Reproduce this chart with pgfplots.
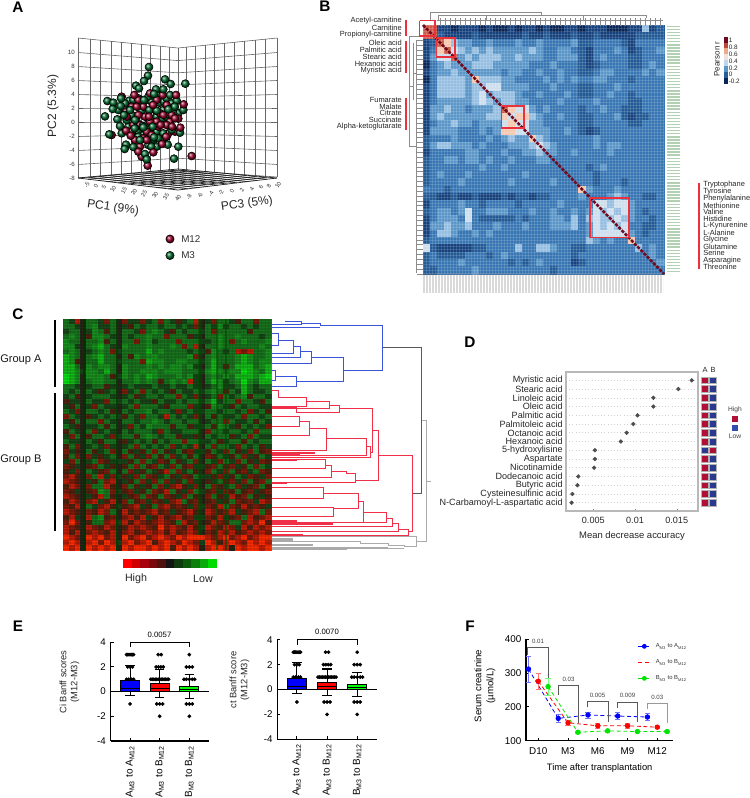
\documentclass[border=0pt]{standalone}
\usepackage{fontspec}
\setmainfont{Liberation Sans}
\usepackage{pgfplots}
\usepackage{pgfplotstable}
\pgfplotsset{compat=1.18}
\usepgfplotslibrary{statistics}
\definecolor{crim}{RGB}{150,0,40}
\definecolor{crims}{RGB}{176,16,52}
\definecolor{grn}{RGB}{0,105,45}
\definecolor{bxred}{RGB}{235,50,60}
\definecolor{dblue}{RGB}{58,85,220}
\definecolor{dred}{RGB}{240,48,72}
\definecolor{dgray}{RGB}{170,170,170}
\def\fs#1{\fontsize{#1}{#1}\selectfont}
\newcommand\Ln[2]{\addplot[#1] coordinates {#2};}
\pgfplotsset{
  /pgf/number format/assume math mode=true,
  zA/.style={x filter/.expression={x/3},y filter/.expression={y/3}},
  zB/.style={x filter/.expression={300+x/3},y filter/.expression={y/3}},
  zC/.style={x filter/.expression={x/3},y filter/.expression={300+y/3}},
  zF/.style={x filter/.expression={420+x/3},y filter/.expression={600+y/3}},
  sW/.style={black!60,line width=.45pt},
  sR/.style={black!85,line width=.55pt},
  sB/.style={zB,black!45,line width=.35pt},
  sb/.style={zC,dblue,line width=.7pt},
  sr/.style={zC,dred,line width=.7pt},
  sg/.style={zC,dgray,line width=.7pt},
  hcell/.style={only marks,scatter,forget plot,point meta=explicit,mark=square*,
    scatter/use mapped color={draw=mapped color,fill=mapped color}},
}
% panel B, coarse cells, code 0 (r=-0.2) to 9 (r=1)
\pgfplotstableread[header=false]{
8 8 1 1 0  1 1 1 0 1  0 0 1 0 1  1 0 1 0 0  1 1 0 1 1  1 0 0 0 1  1 5 1 2
8 8 2 1 1  1 1 2 1 1  1 1 1 1 2  1 1 2 1 1  1 2 1 1 2  1 1 1 1 1  2 2 2 2
1 2 8 7 5  4 4 3 3 4  3 3 3 4 3  3 4 3 3 3  3 4 2 2 3  3 3 3 2 1  3 3 3 3
1 3 7 8 6  5 4 5 4 5  4 4 4 4 4  5 4 3 3 4  4 3 2 1 3  3 3 4 3 1  2 3 3 4
1 4 6 6 8  4 5 4 5 5  5 4 4 5 4  4 4 3 3 4  4 4 2 1 3  4 3 3 3 2  2 3 3 3
0 3 4 5 4  4 4 5 5 5  4 4 4 4 4  3 3 3 4 3  3 3 2 1 2  3 3 3 3 2  2 3 4 3
1 3 4 4 5  4 4 4 4 4  4 3 4 4 3  3 4 3 3 4  3 3 2 2 3  4 4 3 3 3  3 4 3 4
0 3 5 5 5  5 4 7 5 5  5 4 4 3 3  3 3 4 3 4  3 4 3 3 4  4 3 3 3 2  3 3 3 3
1 3 5 5 5  5 4 5 5 6  6 4 4 4 4  3 3 3 4 3  3 3 2 2 3  3 3 4 3 3  3 3 3 3
1 3 5 5 5  5 4 5 6 4  5 5 5 4 3  3 4 3 3 3  4 3 2 2 3  3 4 3 3 2  3 3 3 3
1 3 4 4 4  4 4 5 6 5  4 5 5 4 4  3 3 3 3 4  3 3 3 3 4  3 3 3 3 2  2 3 3 3
1 4 4 5 4  4 3 4 4 4  5 8 7 6 6  4 3 4 3 3  3 3 2 3 3  4 3 3 2 2  2 3 3 3
1 4 5 4 4  4 4 4 4 5  5 7 6 7 7  5 4 3 3 4  3 3 2 2 3  3 3 4 2 1  2 2 3 3
1 3 4 4 5  4 4 3 4 4  4 6 7 6 6  4 4 3 3 3  3 3 2 2 3  3 3 3 3 2  2 3 3 3
1 4 4 4 4  3 3 3 4 3  4 7 7 6 6  4 4 4 3 3  4 3 2 1 2  3 3 3 3 3  3 3 3 3
2 3 3 3 4  3 3 3 3 4  3 4 5 4 4  7 5 4 3 3  3 3 3 3 4  3 3 3 3 3  3 3 3 3
2 4 5 5 4  4 4 3 4 3  3 3 4 4 4  5 6 5 4 3  3 3 3 3 4  3 4 4 3 3  3 3 3 3
1 3 3 3 3  3 4 4 3 3  3 4 3 3 4  4 5 4 4 3  3 4 3 3 3  3 4 3 3 3  3 3 3 3
2 3 3 4 4  3 4 4 3 4  3 3 4 3 3  3 4 4 3 3  3 3 3 3 3  3 3 3 3 3  3 3 3 3
2 3 3 3 3  3 3 3 4 3  3 4 3 3 3  3 3 3 3 3  3 3 3 2 3  4 3 3 3 3  3 3 3 3
2 3 4 3 3  3 4 3 3 3  3 3 3 3 4  3 3 3 3 3  3 3 3 3 2  3 3 3 3 3  3 3 3 3
2 3 3 3 3  4 3 3 3 3  3 3 4 3 3  3 3 3 4 3  3 3 3 3 2  3 3 3 2 3  3 3 3 3
3 3 3 2 3  3 3 3 3 3  3 3 3 3 3  3 3 3 3 3  3 3 7 4 3  3 3 4 3 3  3 3 3 3
2 2 1 1 2  1 1 2 1 1  1 2 1 2 2  1 2 2 3 3  3 3 4 3 3  3 4 5 4 3  3 2 2 3
1 3 3 3 3  4 3 3 2 3  3 3 3 2 3  3 3 3 3 4  3 3 3 3 6  6 5 6 6 4  3 3 3 3
2 3 4 4 3  4 6 3 3 4  4 4 3 3 3  4 3 3 4 3  3 4 3 4 6  5 6 5 6 4  3 2 3 3
1 3 4 4 4  3 6 3 2 2  2 2 2 3 2  3 3 3 4 4  3 5 3 5 6  5 5 6 5 4  3 3 2 3
1 4 4 5 4  4 5 3 3 3  4 3 3 3 4  3 3 3 4 4  4 5 3 4 6  5 6 5 6 3  3 2 2 3
1 3 5 5 4  3 3 4 3 4  3 3 3 3 3  3 3 3 3 3  3 3 3 4 6  6 6 6 6 4  3 2 3 3
2 3 3 3 3  3 3 3 3 3  3 3 3 3 3  3 3 3 3 3  3 3 3 5 4  3 4 3 3 7  3 3 3 3
6 2 1 1 1  1 1 2 2 3  3 3 3 5 3  3 5 5 4 3  3 2 2 3 3  3 3 3 3 3  5 3 4 3
2 3 2 2 2  2 3 3 3 2  3 4 3 3 3  3 3 3 3 3  3 2 3 3 3  3 3 3 3 3  3 3 4 3
2 3 3 3 3  4 3 3 3 3  3 3 2 3 2  3 4 3 3 3  3 1 2 3 3  3 3 3 3 3  3 3 3 4
2 2 3 3 3  3 3 4 3 3  3 3 3 3 3  3 3 3 2 3  3 3 3 3 3  3 3 3 3 3  3 3 3 3
}\tabB
% panel C, coarse cells, code 0 (high, red) to 9 (low, green)
\pgfplotstableread[header=false]{
6 5 1 4 6  6 5 2 6 4  2 5 5 2 5  6 2 6 5 3  5 6 1 4 5  2 6 6 5 3  6 6 2 6 6
6 6 5 4 6  7 5 5 6 4  5 3 6 5 6  6 5 6 6 5  6 5 2 4 6  5 7 5 6 6  5 6 5 6 6
5 6 6 4 5  7 6 3 6 4  6 6 5 2 6  7 6 5 3 6  5 6 6 5 6  2 6 6 6 6  6 3 6 6 6
6 7 6 4 3  7 7 6 5 4  6 5 6 6 7  6 6 2 6 6  6 3 5 4 6  6 7 6 6 7  6 6 6 5 6
7 6 6 4 6  6 7 3 6 4  6 6 2 6 7  5 6 6 6 2  6 6 6 5 5  6 7 6 2 6  7 6 6 6 7
7 7 5 4 6  7 8 6 5 4  7 6 6 6 7  6 6 6 7 6  2 6 1 4 6  6 7 6 6 6  6 6 6 7 6
6 7 6 4 5  6 7 6 2 5  6 6 6 6 8  6 7 6 6 6  6 5 6 5 3  7 6 5 6 1  2 1 6 6 7
8 7 6 4 6  7 8 6 6 4  6 3 7 6 7  7 6 6 6 6  6 7 2 4 6  7 6 6 6 7  8 7 6 6 7
8 7 3 4 6  6 8 6 6 5  6 6 6 2 8  7 7 6 6 7  7 6 6 5 6  8 6 6 6 7  8 7 6 7 7
8 8 6 4 7  6 7 7 6 4  7 6 6 6 7  6 7 6 7 7  6 7 5 4 6  8 6 3 6 8  8 8 6 7 8
8 8 7 5 7  7 6 8 6 4  7 6 6 7 7  7 6 7 7 7  6 6 6 5 7  8 7 6 7 7  9 8 7 6 8
9 8 7 4 7  7 7 6 3 5  7 6 7 6 8  7 6 6 6 7  6 7 5 4 6  7 6 7 6 8  8 8 7 8 9
9 8 7 4 6  7 7 6 6 4  6 6 7 6 7  6 3 6 7 6  7 1 5 4 6  8 7 5 6 7  9 7 6 8 8
6 6 5 4 5  6 6 3 5 4  5 6 5 5 5  6 5 5 6 5  5 6 5 4 5  6 7 5 5 6  8 6 5 6 6
6 5 6 4 6  5 3 5 6 4  2 5 6 2 6  5 6 5 3 6  5 5 6 5 6  7 6 3 6 5  8 6 5 5 6
5 6 3 4 5  6 6 6 5 4  5 6 3 5 6  6 5 6 6 2  6 5 2 4 5  6 2 6 5 6  7 3 6 6 5
3 5 5 4 6  5 5 2 6 5  6 5 6 5 5  3 6 5 5 6  5 6 6 5 6  8 5 6 6 2  6 6 5 3 6
5 3 6 4 5  2 6 5 5 4  5 6 2 6 6  6 5 3 6 6  6 2 5 4 3  7 6 5 3 6  5 6 6 5 5
6 5 2 4 6  6 5 6 3 4  6 5 6 6 7  5 6 6 5 2  5 6 5 5 6  6 5 6 6 5  6 2 5 6 3
2 6 5 4 3  5 6 5 6 5  3 6 5 2 6  6 5 1 6 5  6 5 2 4 6  3 6 5 5 6  2 6 6 5 6
5 3 6 4 6  6 2 6 5 4  6 6 5 6 6  7 6 5 6 6  5 6 6 4 5  6 6 2 6 5  5 6 3 6 5
6 5 3 4 5  5 6 3 6 4  5 2 6 5 7  6 6 6 3 6  6 3 5 5 6  3 7 6 5 3  6 5 6 5 2
3 6 5 4 6  2 5 6 5 4  6 5 6 6 6  5 2 6 5 5  6 6 6 4 2  6 6 5 6 6  5 6 2 6 6
5 2 6 4 3  6 6 5 2 5  6 6 3 6 7  6 5 6 6 3  5 5 3 4 6  5 6 6 3 5  6 2 6 5 5
6 5 5 4 6  5 3 6 6 4  3 5 6 5 6  3 6 5 6 6  2 6 6 5 5  6 3 5 6 6  3 6 5 6 6
3 6 2 4 5  6 5 2 5 4  5 6 2 6 5  6 5 6 2 5  6 5 1 4 6  2 6 6 5 2  6 5 6 3 5
2 5 3 4 6  3 5 6 2 4  6 3 5 3 6  2 6 3 5 6  3 2 5 5 3  6 5 2 6 3  5 2 6 3 2
3 6 2 4 2  5 3 5 6 4  2 6 3 5 2  6 3 6 2 5  6 3 6 4 2  3 6 5 3 6  2 5 3 6 5
5 2 6 4 5  6 2 3 5 5  5 3 6 2 6  5 2 3 6 3  5 6 2 4 6  5 2 6 5 2  6 3 5 2 3
2 3 5 4 3  2 6 5 3 4  3 6 2 6 3  2 6 5 2 6  3 2 5 5 3  2 6 3 2 5  3 6 2 6 5
3 5 2 4 6  5 3 2 6 4  6 2 5 3 6  5 3 1 6 2  5 6 3 4 2  6 5 2 6 3  2 5 6 2 3
2 1 3 4 2  6 1 5 2 5  3 5 2 6 2  3 5 6 3 5  2 3 6 5 5  3 2 5 3 6  5 2 3 5 2
1 2 3 4 5  3 6 2 1 4  5 3 6 2 5  2 6 2 5 3  6 2 5 4 3  5 6 3 2 5  2 6 3 2 6
3 1 2 4 2  6 6 1 3 4  2 6 3 5 3  6 2 5 2 1  3 5 2 4 6  2 3 5 6 2  5 3 2 6 3
2 3 5 4 3  2 7 6 2 5  3 2 5 3 6  2 3 1 6 3  5 2 6 5 3  2 5 2 3 6  3 2 5 3 2
1 2 3 4 5  3 1 6 3 4  5 3 2 6 2  3 6 2 3 5  2 6 3 4 2  6 3 5 1 3  2 6 3 5 3
3 1 2 4 2  1 5 3 1 4  2 6 3 2 5  2 3 5 2 1  6 3 2 4 3  2 5 3 6 2  3 2 5 1 2
2 3 1 4 6  5 2 1 3 5  3 2 1 5 3  6 2 1 3 2  3 5 2 5 2  3 1 6 2 3  1 3 2 3 5
1 2 3 4 2  3 1 2 6 4  1 3 2 3 2  1 3 2 5 3  2 1 3 4 1  2 3 2 1 5  3 2 1 6 2
3 1 5 4 1  6 7 3 2 4  2 1 3 1 5  3 1 3 2 1  3 2 5 5 2  3 1 5 3 2  6 1 3 2 1
2 0 2 4 3  6 6 2 1 5  1 3 1 2 3  2 1 2 3 6  1 3 2 4 3  1 2 3 6 6  2 1 2 0 3
1 2 3 4 1  2 3 1 2 4  3 1 2 1 2  3 0 2 1 2  3 1 3 5 1  2 3 1 2 5  1 3 1 2 1
1 3 1 4 2  1 2 3 1 4  2 1 3 2 1  2 1 3 1 3  2 1 2 4 2  3 1 2 1 3  2 1 2 1 2
0 1 2 4 0  1 0 2 1 4  0 2 1 0 2  1 0 1 2 0  1 0 0 0 1  2 1 0 2 1  0 2 1 0 0
1 0 1 4 1  0 2 0 1 5  1 0 2 1 0  3 1 0 1 2  0 1 2 5 0  1 3 1 0 1  2 0 1 0 1
0 1 0 4 0  1 0 1 0 4  0 1 0 0 1  0 1 0 3 0  1 0 1 4 1  0 0 1 4 0  1 0 0 1 0
}\tabC
\begin{document}
\begin{tikzpicture}
\path[use as bounding box] (0,0) rectangle (561.75pt,-598.5pt);

% B heatmap
\begin{axis}[at={(317.25pt,-18.75pt)},anchor=north west,scale only axis,
  width=180.75pt,height=186.75pt,xmin=423,xmax=664,ymin=25,ymax=274,y dir=reverse,hide axis,
  point meta min=0,point meta max=9,
  colormap={hb}{rgb255=(8,37,85) rgb255=(22,65,125) rgb255=(35,90,150) rgb255=(55,118,178)
    rgb255=(90,150,200) rgb255=(150,190,225) rgb255=(205,222,238) rgb255=(245,200,175)
    rgb255=(205,90,70) rgb255=(110,10,30)}]
\pgfplotsinvokeforeach{0,...,33}{
  \addplot[hcell,mark size=2.8pt] table[x expr={423+7.088*(#1+0.5)},y expr={25+7.324*(\coordindex+0.5)},meta index=#1]{\tabB};
}
\end{axis}

% C heatmap
\begin{axis}[at={(47.25pt,-239.25pt)},anchor=north west,scale only axis,
  width=156pt,height=173.25pt,xmin=63,xmax=271,ymin=319,ymax=550,y dir=reverse,hide axis,
  point meta min=0,point meta max=9,
  colormap={hc}{rgb255=(255,45,0) rgb255=(190,30,10) rgb255=(125,30,12) rgb255=(80,35,15)
    rgb255=(38,38,25) rgb255=(25,70,25) rgb255=(25,115,30) rgb255=(25,145,30)
    rgb255=(20,185,25) rgb255=(10,225,20)}]
\pgfplotsinvokeforeach{0,...,34}{
  \addplot[hcell,mark size=1.95pt,mark options={xscale=1.18}] table[x expr={63+5.943*(#1+0.5)},y expr={319+5.022*(\coordindex+0.5)},meta index=#1]{\tabC};
}
\end{axis}

% D
\begin{axis}[at={(424.5pt,-279pt)},anchor=north west,scale only axis,
  width=99pt,height=104.25pt,xmin=0.00173,xmax=0.01755,ymin=0.05,ymax=15.95,
  axis line style={draw=black!28,line width=.9pt},
  xtick={0.005,0.01,0.015},xticklabels={0.005,0.01,0.015},
  ytick={1,...,15},
  yticklabels={N-Carbamoyl-L-aspartatic acid,Cysteinesulfinic acid,Butyric acid,Dodecanoic acid,Nicotinamide,Aspartate,5-hydroxylisine,Hexanoic acid,Octanoic acid,Palmitoleic acid,Palmitic acid,Oleic acid,Linoleic acid,Stearic acid,Myristic acid},
  tick label style={font=\fontsize{6.8}{7}\selectfont,black!85},
  ymajorgrids,grid style={black!18,dotted,line width=.4pt},
  xtick pos=bottom,ytick pos=left,major tick length=1.5pt,
  tick style={black!45},ytick style={draw=none},
  scaled x ticks=false,
  xlabel={Mean decrease accuracy},xlabel style={font=\fontsize{7.1}{8}\selectfont,black!85,yshift=1pt},
  yticklabel style={xshift=1pt},xticklabel style={yshift=-1pt}]
\addplot[only marks,mark=*,mark size=1.4pt,black!70] coordinates {
(0.0168,15)(0.0152,14)(0.0122,13)(0.0122,12)(0.0103,11)(0.0098,10)(0.0090,9)(0.0083,8)
(0.0052,7)(0.0052,6)(0.0051,5)(0.0032,4)(0.0031,3)(0.0025,2)(0.0024,1)};
\end{axis}

% E left
\begin{axis}[at={(82.875pt,-481.7pt)},anchor=north west,scale only axis,
  width=73.9pt,height=74pt,xmin=0.34,xmax=3.665,ymin=-4,ymax=4,clip=false,
  axis x line*=bottom,axis y line*=left,axis line style={black,line width=.9pt,-},
  ytick={-4,-2,0,2,4},yticklabels={-4,-2,0,2,4},xtick={1,2,3},
  xticklabels={A\textsubscript{M3} to A\textsubscript{M12},A\textsubscript{M3} to B\textsubscript{M12},B\textsubscript{M3} to B\textsubscript{M12}},
  xticklabel style={rotate=90,anchor=east,font=\fontsize{7.5}{8}\selectfont},
  yticklabel style={font=\fontsize{7.3}{8}\selectfont},
  tick style={black,line width=.7pt},major tick length=2.3pt,
  boxplot/draw direction=y,boxplot/box extend=.64,boxplot/whisker extend=.32,
  boxplot/every median/.style={line width=.3pt}]
\addplot[boxplot prepared={lower whisker=-.3,lower quartile=0,median=.3,upper quartile=.9,upper whisker=2.15,draw position=1},fill=blue,draw=black,line width=.8pt] coordinates {};
\addplot[boxplot prepared={lower whisker=-.45,lower quartile=0,median=.3,upper quartile=.62,upper whisker=1.8,draw position=2},fill=red,draw=black,line width=.8pt] coordinates {};
\addplot[boxplot prepared={lower whisker=-.55,lower quartile=0,median=.2,upper quartile=.38,upper whisker=1.35,draw position=3},fill=green,draw=black,line width=.8pt] coordinates {};
\addplot[only marks,mark=*,mark size=1.2pt,black] coordinates {
(.88,3)(.92,3)(.96,3)(1,3)(1.04,3)(1.08,3)(1.12,3)(.92,2)(1,2)(1.08,2)(.88,1)(.95,1)(1.05,1)(1.12,1)(1,-1)
(1.95,3)(2.05,3)(1.88,2)(1.96,2)(2.04,2)(2.12,2)(1.7,1)(1.75,1)(1.8,1)(1.85,1)(1.9,1)(1.95,1)(2,1)(2.05,1)(2.1,1)(2.15,1)(2.2,1)(2.25,1)(2.3,1)(1.9,-1)(2,-1)(2.1,-1)(2,-2)
(3,3)(2.9,2)(3,2)(3.1,2)(2.82,1)(2.9,1)(3,1)(3.1,1)(3.18,1)(2.9,-1)(3,-1)(3.1,-1)(3,-2)};
\addplot[black,line width=.9pt] coordinates {(0.34,0)(3.665,0)};
\addplot[black,line width=.6pt] coordinates {(1,3.6)(1,4)(3,4)(3,3.6)};
\end{axis}

% E right
\begin{axis}[at={(208pt,-479.8pt)},anchor=north west,scale only axis,
  width=74.8pt,height=74.7pt,xmin=0.35,xmax=3.66,ymin=-4,ymax=4,clip=false,
  axis x line*=bottom,axis y line*=left,axis line style={black,line width=.9pt,-},
  ytick={-4,-2,0,2,4},yticklabels={-4,-2,0,2,4},xtick={1,2,3},
  xticklabels={A\textsubscript{M3} to A\textsubscript{M12},A\textsubscript{M3} to B\textsubscript{M12},B\textsubscript{M3} to B\textsubscript{M12}},
  xticklabel style={rotate=90,anchor=east,font=\fontsize{7.5}{8}\selectfont},
  yticklabel style={font=\fontsize{7.3}{8}\selectfont},
  tick style={black,line width=.7pt},major tick length=2.3pt,
  boxplot/draw direction=y,boxplot/box extend=.64,boxplot/whisker extend=.32,
  boxplot/every median/.style={line width=.3pt}]
\addplot[boxplot prepared={lower whisker=-.3,lower quartile=0,median=.3,upper quartile=.85,upper whisker=2.15,draw position=1},fill=blue,draw=black,line width=.8pt] coordinates {};
\addplot[boxplot prepared={lower whisker=-.45,lower quartile=0,median=.3,upper quartile=.55,upper whisker=1.65,draw position=2},fill=red,draw=black,line width=.8pt] coordinates {};
\addplot[boxplot prepared={lower whisker=-.55,lower quartile=0,median=.2,upper quartile=.4,upper whisker=1.4,draw position=3},fill=green,draw=black,line width=.8pt] coordinates {};
\addplot[only marks,mark=*,mark size=1.2pt,black] coordinates {
(.88,3)(.92,3)(.96,3)(1,3)(1.04,3)(1.08,3)(1.12,3)(.92,2)(1,2)(1.08,2)(.88,1)(.95,1)(1.05,1)(1.12,1)(1,-1)
(1.95,3)(2.05,3)(1.88,2)(1.96,2)(2.04,2)(2.12,2)(1.7,1)(1.75,1)(1.8,1)(1.85,1)(1.9,1)(1.95,1)(2,1)(2.05,1)(2.1,1)(2.15,1)(2.2,1)(2.25,1)(2.3,1)(1.9,-1)(2,-1)(2.1,-1)(2,-2)
(3,3)(2.9,2)(3,2)(3.1,2)(2.82,1)(2.9,1)(3,1)(3.1,1)(3.18,1)(2.9,-1)(3,-1)(3.1,-1)(3,-2)};
\addplot[black,line width=.9pt] coordinates {(0.35,0)(3.66,0)};
\addplot[black,line width=.6pt] coordinates {(1,3.6)(1,4)(3,4)(3,3.6)};
\end{axis}

% F
\begin{axis}[at={(394.5pt,-479.5pt)},anchor=north west,scale only axis,
  width=110.5pt,height=76pt,xmin=0.587,xmax=5.54,ymin=100,ymax=400,clip=false,
  axis x line*=bottom,axis y line*=left,axis line style={black,line width=.8pt,-},
  xtick={1,2,3,4,5},xticklabels={D10,M3,M6,M9,M12},ytick={100,200,300,400},yticklabels={100,200,300,400},
  tick label style={font=\fontsize{7.4}{8}\selectfont},xticklabel style={yshift=-1.5pt},
  tick style={black,line width=.6pt},major tick length=2.3pt,
  xlabel={Time after transplantation},xlabel style={font=\fontsize{7}{8}\selectfont}]
\addplot[blue,densely dashed,line width=.6pt,mark=*,mark size=1.7pt,mark options={solid},
  error bars/.cd,y dir=both,y explicit,error bar style={solid,blue!55,line width=.6pt},error mark options={rotate=90,mark size=2pt,blue!55}]
  coordinates {(.67,312)+-(0,39)(1.67,166)+-(0,11)(2.67,176)+-(0,9)(3.67,173)+-(0,11)(4.67,170)+-(0,11)};
\addplot[red,densely dashed,line width=.6pt,mark=*,mark size=1.7pt,mark options={solid},
  error bars/.cd,y dir=both,y explicit,error bar style={solid,red!55,line width=.6pt},error mark options={rotate=90,mark size=2pt,red!55}]
  coordinates {(1,276)+-(0,24)(2,153)+-(0,6)(3,144)+-(0,7)(4,144)+-(0,7)(5,140)+-(0,3)};
\addplot[green!90!black,densely dashed,line width=.6pt,mark=*,mark size=1.7pt,mark options={solid},
  error bars/.cd,y dir=both,y explicit,error bar style={solid,green!55,line width=.6pt},error mark options={rotate=90,mark size=2pt,green!55}]
  coordinates {(1.33,260)+-(0,25)(2.33,125)+-(0,2)(3.33,129)+-(0,3)(4.33,127)+-(0,3)(5.33,127)+-(0,3)};
\end{axis}

% overlay in reference pixels: panel A, dendrograms, marks
\begin{axis}[at={(0pt,0pt)},anchor=north west,scale only axis,width=561.75pt,height=598.5pt,
  xmin=0,xmax=749,ymin=0,ymax=798,y dir=reverse,hide axis,clip=false]

% heatmap overlays
\addplot[white,opacity=.14,line width=186.75pt,dash pattern=on .3pt off 1.95pt] coordinates {(423,149.5)(664,149.5)};
\addplot[white,opacity=.14,line width=180.75pt,dash pattern=on .3pt off 2pt] coordinates {(543.5,25)(543.5,274)};
\addplot[draw={rgb,255:red,115;green,10;blue,30},line width=1.9pt,dash pattern=on 2.4pt off 1pt] coordinates {(423,25)(664,274)};
\addplot[black,opacity=.12,line width=156pt,dash pattern=on .55pt off .55pt] coordinates {(167,319)(167,550)};
\addplot[black,opacity=.08,line width=173.25pt,dash pattern=on .9pt off 1.8pt] coordinates {(63,434.5)(271,434.5)};
\addplot[black!80!green,opacity=.85,line width=1.5pt] coordinates {(84,319)(84,550)};
\addplot[black!75!green,opacity=.85,line width=2pt] coordinates {(117,319)(117,550)};
\addplot[black!70!green,opacity=.6,line width=3.6pt] coordinates {(200,319)(200,535)};
\addplot[black!70!green,opacity=.6,line width=1.2pt] coordinates {(217,319)(217,550)};
\addplot[black!70!green,opacity=.6,line width=1.2pt] coordinates {(226,319)(226,550)};

% A walls
\Ln{sW}{(78,38)(78,178)}\Ln{sW}{(90,39.2)(90,177)}\Ln{sW}{(100.5,40.2)(100.5,176)}\Ln{sW}{(111,41.3)(111,175)}\Ln{sW}{(121,42.3)(121,174)}
\Ln{sW}{(131.5,43.4)(131.5,173.2)}\Ln{sW}{(141,44.3)(141,172.3)}\Ln{sW}{(150,45.2)(150,171.5)}\Ln{sW}{(160,46.2)(160,170.7)}\Ln{sW}{(169,47.1)(169,170)}\Ln{sW}{(178,48)(178,170)}
\Ln{sW}{(186,47.2)(186,170.6)}\Ln{sW}{(195.5,46.2)(195.5,171.3)}\Ln{sW}{(205,45.3)(205,172)}\Ln{sW}{(214,44.4)(214,172.6)}\Ln{sW}{(224,43.4)(224,173.3)}\Ln{sW}{(234,42.3)(234,174)}
\Ln{sW}{(244,41.3)(244,175)}\Ln{sW}{(255,40.2)(255,175.8)}\Ln{sW}{(265,39.2)(265,176.5)}\Ln{sW}{(277,38)(277,177)}
\Ln{sW}{(78,38)(178,48)(277,38)}\Ln{sW}{(78,52.5)(178,60.6)(277,52.5)}\Ln{sW}{(78,66.5)(178,72.8)(277,66.5)}\Ln{sW}{(78,80.5)(178,85)(277,80.5)}
\Ln{sW}{(78,94.5)(178,97.2)(277,94.5)}\Ln{sW}{(78,108.5)(178,109.4)(277,108.5)}\Ln{sW}{(78,122.5)(178,121.6)(277,122.5)}
\Ln{sW}{(78,136.5)(178,133.8)(277,136.5)}\Ln{sW}{(78,150.5)(178,146)(277,150.5)}\Ln{sW}{(78,164.5)(178,158.2)(277,164.5)}\Ln{sW}{(78,178)(178,170)(277,177)}
% A floor
\Ln{sR}{(78,178)(178,169)}\Ln{sR}{(88,179.2)(188,170)}\Ln{sR}{(98,180.4)(198,170.8)}\Ln{sR}{(108,181.6)(208,171.7)}\Ln{sR}{(118,182.8)(218,172.6)}\Ln{sR}{(128,184)(227.5,173.5)}
\Ln{sR}{(138,185.2)(237,174.4)}\Ln{sR}{(148,186.4)(247,175.3)}\Ln{sR}{(158,187.6)(257,176.2)}\Ln{sR}{(168,188.8)(267,177.1)}\Ln{sR}{(178,190)(277,178)}
\Ln{sR}{(78,178)(178,190)}\Ln{sR}{(88,177.1)(188,188.8)}\Ln{sR}{(98,176.2)(198,187.6)}\Ln{sR}{(108,175.3)(208,186.4)}\Ln{sR}{(118,174.4)(218,185.2)}\Ln{sR}{(128,173.5)(227.5,184)}
\Ln{sR}{(138,172.6)(237,182.8)}\Ln{sR}{(148,171.7)(247,181.6)}\Ln{sR}{(158,170.8)(257,180.4)}\Ln{sR}{(168,170)(267,179.2)}\Ln{sR}{(178,169)(277,178)}
% A spheres
\addplot[zA,only marks,mark=ball,mark size=3pt,mark options={ball color=grn}] coordinates {
(388,302)(388,330)(400,350)(409,362)(430,380)(460,382)(470,350)(448,330)(425,332)(468,332)(487,355)(505,330)(478,308)(492,305)(430,405)(447,420)(462,418)(412,395)(445,370)(500,410)(470,395)(408,380)(385,380)(440,300)(420,310)(455,305)(500,350)
(400,300)(415,295)(445,290)(475,285)(500,295)(515,310)(535,340)(520,340)(380,360)(395,345)(365,400)(400,410)(415,410)(445,435)(470,440)(485,420)(510,345)(490,330)(355,330)(375,310)};
\addplot[zA,only marks,mark=ball,mark size=3pt,mark options={ball color=crim}] coordinates {
(395,320)(378,335)(510,365)(435,350)(470,365)(440,395)(415,345)(400,375)(455,405)(420,440)(430,415)(450,280)(488,285)(480,340)(365,290)(535,356)(505,400)(335,405)(425,470)(430,320)(500,375)
(420,375)(450,365)(475,380)(490,345)(440,420)(405,420)(395,395)(515,345)(415,300)(470,300)(380,350)(500,315)(525,395)};
\addplot[zA,only marks,mark=ball,mark size=3pt,mark options={ball color=grn}] coordinates {
(447,201)(444,227)(432,243)(408,257)(417,265)(495,238)(512,252)(556,251)(322,303)(340,308)(338,327)(315,349)(352,358)(360,378)(372,345)(362,318)(363,295)(378,434)(374,447)(400,441)(420,420)(522,476)(535,440)(503,434)(550,330)(530,302)(510,285)(490,268)(468,268)(462,282)(432,300)(524,320)(515,390)(540,398)(454,440)(490,400)(475,415)(405,360)(428,378)(458,380)(390,330)(448,330)(470,332)(505,328)};
\addplot[zA,only marks,mark=ball,mark size=3pt,mark options={ball color=crim}] coordinates {
(403,285)(410,320)(459,315)(447,350)(525,355)(541,383)(516,380)(378,392)(392,407)(415,455)(443,497)(460,457)(486,432)(575,468)(498,410)(482,375)(551,313)(528,285)};
\addplot[zA,only marks,mark=ball,mark size=3pt,mark options={ball color=grn}] coordinates {(328,403)(435,462)(440,478)(404,385)(430,382)(462,412)};
\addplot[only marks,mark=ball,mark size=3.1pt,mark options={ball color=crim}] coordinates {(170,239)};
\addplot[only marks,mark=ball,mark size=3.1pt,mark options={ball color=grn}] coordinates {(170,255.5)};

% B decorations: dendrograms, label stripes, boxes, bars, colour bar
\Ln{sB}{(392,60)(392,36)(725,36)(725,45)}\Ln{sB}{(415,60)(415,45)(1040,45)(1040,55)}\Ln{sB}{(410,60)(1090,60)}\Ln{sB}{(560,45)(560,60)}\Ln{sB}{(850,45)(850,60)}
\Ln{sB}{(328,440)(328,110)(392,110)}\Ln{sB}{(340,300)(340,130)}\Ln{sB}{(328,260)(340,260)}\Ln{sB}{(350,820)(350,120)(370,120)}\Ln{sB}{(340,220)(350,220)}\Ln{sB}{(328,440)(350,440)}
\addplot[zB,black!45,line width=6pt,dash pattern=on .35pt off 3.4pt] coordinates {(420,67)(1090,67)};
\addplot[zB,black!45,line width=4pt,dash pattern=on .35pt off 3.3pt] coordinates {(360,120)(360,822)};
\addplot[zB,green!40!black,opacity=.3,line width=10pt,dash pattern=on 1.1pt off 1.2pt] coordinates {(1120,77)(1120,822)};
\addplot[zB,black!50,opacity=.3,line width=15pt,dash pattern=on 1.1pt off 1.15pt] coordinates {(370,850)(1090,850)};
\addplot[bxred,line width=.85pt] coordinates {(419.5,20.5)(435,20.5)(435,36)(419.5,36)(419.5,20.5)};
\addplot[bxred,line width=.85pt] coordinates {(436.5,38)(455,38)(455,57)(436.5,57)(436.5,38)};
\addplot[bxred,line width=.85pt] coordinates {(501.5,106)(524,106)(524,128)(501.5,128)(501.5,106)};
\addplot[bxred,line width=.85pt] coordinates {(590,198)(629,198)(629,237.5)(590,237.5)(590,198)};
\addplot[bxred,line width=.9pt] coordinates {(406,20)(406,36)};
\addplot[bxred,line width=.9pt] coordinates {(406,41)(406,73)};
\addplot[bxred,line width=.9pt] coordinates {(406,98)(406,130)};
\addplot[bxred,line width=.9pt] coordinates {(699,183)(699,269)};
\addplot[color={rgb,255:red,110;green,10;blue,30},line width=3pt] coordinates {(726,37)(726,43)};
\addplot[color={rgb,255:red,190;green,70;blue,60},line width=3pt] coordinates {(726,43)(726,48)};
\addplot[color={rgb,255:red,235;green,170;blue,140},line width=3pt] coordinates {(726,48)(726,54)};
\addplot[color={rgb,255:red,240;green,225;blue,220},line width=3pt] coordinates {(726,54)(726,60)};
\addplot[color={rgb,255:red,190;green,215;blue,235},line width=3pt] coordinates {(726,60)(726,66)};
\addplot[color={rgb,255:red,90;green,150;blue,200},line width=3pt] coordinates {(726,66)(726,72)};
\addplot[color={rgb,255:red,40;green,95;blue,155},line width=3pt] coordinates {(726,72)(726,78)};
\addplot[color={rgb,255:red,8;green,37;blue,85},line width=3pt] coordinates {(726,78)(726,84)};

% C decorations
\addplot[black,line width=1.5pt] coordinates {(54.5,320)(54.5,387)};
\addplot[black,line width=1.5pt] coordinates {(54.5,393)(54.5,531)};
\addplot[zC,black!65,line width=.6pt] coordinates {(1147,143)(1265,143)(1265,580)(1238,580)};
\Ln{sb}{(1147,143)(1147,75)(960,75)(960,70)(905,70)(905,65)(855,65)}\Ln{sb}{(815,74)(905,74)}\Ln{sb}{(815,82)(960,82)}
\Ln{sb}{(1147,143)(1147,210)(1030,210)(1030,172)(935,172)(935,155)(900,155)(900,140)(880,140)(880,122)(835,122)(835,100)(815,100)}\Ln{sb}{(835,122)(835,135)(815,135)}
\Ln{sb}{(880,140)(880,160)(815,160)}\Ln{sb}{(900,155)(900,172)(815,172)}\Ln{sb}{(935,172)(935,190)(815,190)}\Ln{sb}{(1030,210)(1030,245)(890,245)(890,230)(825,230)(825,210)(815,210)}\Ln{sb}{(825,230)(825,240)(815,240)}\Ln{sb}{(890,245)(890,260)(815,260)}
\Ln{sr}{(1238,580)(1238,465)(1135,465)(1135,390)(1118,390)(1118,325)(1018,325)(1018,316)(988,316)(988,305)(920,305)(920,292)(835,292)(835,270)(815,270)}
\Ln{sr}{(920,305)(920,318)(815,318)}\Ln{sr}{(988,316)(988,326)(815,326)}\Ln{sr}{(1018,325)(1018,338)(890,338)(890,322)(815,322)}
\Ln{sr}{(1118,390)(1118,458)(1110,458)(1110,440)(1100,440)(1100,415)(980,415)(980,385)(928,385)(928,365)(897,365)(897,350)(815,350)}\Ln{sr}{(897,365)(897,378)(815,378)}\Ln{sr}{(928,385)(928,405)(815,405)}
\Ln{sr}{(980,415)(980,450)(815,450)}\Ln{sr}{(1100,440)(1100,465)(815,465)}\Ln{sr}{(1110,458)(1110,472)(815,472)}
\Ln{sr}{(1135,465)(1135,540)(1065,540)(1065,520)(1038,520)(1038,515)(995,515)(995,497)(975,497)(975,478)(815,478)}\Ln{sr}{(975,497)(975,505)(815,505)}\Ln{sr}{(995,515)(995,532)(815,532)}\Ln{sr}{(1065,540)(1065,548)(815,548)}
\Ln{sr}{(1238,580)(1238,695)(1225,695)(1225,688)(1195,688)(1195,670)(1178,670)(1178,655)(1158,655)(1158,638)(1090,638)(1090,605)(1075,605)(1075,580)(970,580)(970,562)(815,562)}
\Ln{sr}{(970,580)(970,595)(815,595)}\Ln{sr}{(1075,605)(1075,625)(1000,625)(1000,622)(815,622)}\Ln{sr}{(1000,625)(1000,650)(815,650)}\Ln{sr}{(1090,638)(1090,668)(815,668)}\Ln{sr}{(1158,655)(1158,668)(815,668)}\Ln{sr}{(1178,670)(1178,680)(815,680)}\Ln{sr}{(1195,688)(1195,695)(815,695)}\Ln{sr}{(1225,695)(1225,705)(815,705)}
\Ln{sr,line width=1.4pt}{(815,458)(945,458)}\Ln{sr,line width=1.4pt}{(815,466)(900,466)}\Ln{sr,line width=1.4pt}{(815,480)(890,480)}\Ln{sr,line width=1.4pt}{(815,548)(860,548)}\Ln{sr,line width=1.4pt}{(815,664)(890,664)}\Ln{sr,line width=1.4pt}{(815,672)(1000,672)}\Ln{sr,line width=1.4pt}{(815,704)(910,704)}
\Ln{sg}{(1265,360)(1280,360)(1280,725)(1250,725)}\Ln{sg}{(1280,543)(1293,543)}\Ln{sg}{(815,710)(1250,710)}\Ln{sg}{(1250,710)(1250,740)(1212,740)(1212,735)(1165,735)(1165,730)(1080,730)(1080,725)(815,725)}\Ln{sg}{(815,746)(1212,746)}\Ln{sg}{(815,742)(1165,742)}
\Ln{sg,line width=2pt}{(815,718)(880,718)}\Ln{sg,line width=2pt}{(815,735)(940,735)}\Ln{sg,line width=2pt}{(815,745)(1040,745)}
\addplot[color={rgb,255:red,255;green,0;blue,0},line width=6.75pt] coordinates {(123.3,563.5)(131.8,563.5)};
\addplot[color={rgb,255:red,208;green,0;blue,0},line width=6.75pt] coordinates {(131.8,563.5)(140.3,563.5)};
\addplot[color={rgb,255:red,168;green,0;blue,10},line width=6.75pt] coordinates {(140.3,563.5)(148.8,563.5)};
\addplot[color={rgb,255:red,120;green,8;blue,10},line width=6.75pt] coordinates {(148.8,563.5)(157.3,563.5)};
\addplot[color={rgb,255:red,80;green,16;blue,16},line width=6.75pt] coordinates {(157.3,563.5)(165.8,563.5)};
\addplot[color={rgb,255:red,20;green,20;blue,20},line width=6.75pt] coordinates {(165.8,563.5)(174.3,563.5)};
\addplot[color={rgb,255:red,15;green,60;blue,15},line width=6.75pt] coordinates {(174.3,563.5)(182.8,563.5)};
\addplot[color={rgb,255:red,10;green,92;blue,10},line width=6.75pt] coordinates {(182.8,563.5)(191.3,563.5)};
\addplot[color={rgb,255:red,10;green,128;blue,10},line width=6.75pt] coordinates {(191.3,563.5)(199.8,563.5)};
\addplot[color={rgb,255:red,10;green,170;blue,10},line width=6.75pt] coordinates {(199.8,563.5)(208.3,563.5)};
\addplot[color={rgb,255:red,0;green,220;blue,0},line width=6.75pt] coordinates {(208.3,563.5)(216.8,563.5)};

% D side squares
\addplot[only marks,mark=square*,mark size=2.5pt,mark options={draw=black!30,fill=crims}] coordinates {
(705,380.3)(705,389)(705,397.8)(705,406.5)(705,415.3)(705,424)(705,432.8)(705,441.5)(713,450.3)(705,459)(705,467.8)(705,476.5)(705,485.2)(705,494)(705,502.7)};
\addplot[only marks,mark=square*,mark size=2.5pt,mark options={draw=black!30,fill={rgb,255:red,42;green,58;blue,145}}] coordinates {
(713,380.3)(713,389)(713,397.8)(713,406.5)(713,415.3)(713,424)(713,432.8)(713,441.5)(705,450.3)(713,459)(713,467.8)(713,476.5)(713,485.2)(713,494)(713,502.7)};
\addplot[only marks,mark=square*,mark size=1.9pt,crims] coordinates {(734.5,418.5)};
\addplot[only marks,mark=square*,mark size=1.9pt,color={rgb,255:red,50;green,80;blue,170}] coordinates {(734.5,427.5)};

% F brackets and legend
\addplot[zF,black!65,line width=.55pt] coordinates {(321,165)(321,142)(386,142)(386,235)};
\addplot[zF,black!65,line width=.55pt] coordinates {(415,285)(415,256)(476,256)(476,368)};
\addplot[zF,black!65,line width=.55pt] coordinates {(503,322)(503,304)(565,304)(565,365)};
\addplot[zF,black!65,line width=.55pt] coordinates {(592,325)(592,307)(653,307)(653,365)};
\addplot[zF,black!40,line width=.7pt] coordinates {(682,328)(682,311)(742,311)(742,368)};
\addplot[zF,blue,densely dashed,line width=.55pt,mark=*,mark size=1.5pt,mark options={solid},mark indices={2}] coordinates {(655,139)(673,139)(690,139)};
\addplot[zF,red,densely dashed,line width=.55pt] coordinates {(655,187)(690,187)};
\addplot[zF,green!90!black,densely dashed,line width=.55pt,mark=*,mark size=1.5pt,mark options={solid},mark indices={2}] coordinates {(655,235)(673,235)(690,235)};
\end{axis}

% text in reference pixels
\begin{scope}[x=0.75pt,y=-0.75pt]
\foreach \l/\x/\y in {A/18/7,B/325/6,C/18/314,D/470/342,E/18/626,F/470/626}
  \node[font=\fontsize{11.5}{12}\selectfont\bfseries] at (\x,\y) {\l};
% A text
\node[rotate=90,font=\fs{9},black!85] at (53,106) {PC2 (5.3\%)};
\node[rotate=-8,font=\fs{9},black!85] at (113,208) {PC1 (9\%)};
\node[rotate=8,font=\fs{9},black!85] at (247,204) {PC3 (5\%)};
\foreach \l/\y in {10/52.5,8/66.5,6/80.5,4/94.5,2/108.5,0/122.5,-2/136.5,-4/150.5,-6/164.5,-8/178}
  \node[anchor=east,inner sep=0pt,font=\fs{4.6},black!80] at (75,\y) {\l};
\foreach \l/\x/\y in {-5/87/185,0/96/186.5,5/104/187.5,10/113/189,15/124/190.5,20/134/192,25/144/193.5,30/155/195,35/166/196.5,40/178/198,
  -8/189/197,-6/200/195.5,-4/211/194,-2/221/192.5,0/232/191,2/242/190,4/252/189,6/261/187.5,8/269/186,10/278/185}
  \node[rotate=60,inner sep=0pt,font=\fs{4.4},black!80] at (\x,\y) {\l};
\node[anchor=west,inner sep=0pt,font=\fs{7.4},black!80] at (181,239) {M12};
\node[anchor=west,inner sep=0pt,font=\fs{7.4},black!80] at (181,255.5) {M3};
% B text
\foreach \l/\y in {Acetyl-carnitine/20.5,Carnitine/27.5,Propionyl-carnitine/34.5,Oleic acid/43,Palmitic acid/50,Stearic acid/57,Hexanoic acid/64,Myristic acid/71,Fumarate/99.5,Malate/106.5,Citrate/113,Succinate/120,Alpha-ketoglutarate/127}
  \node[anchor=east,inner sep=0pt,font=\fs{5.6},black!85] at (402,\y) {\l};
\foreach \l/\y in {Tryptophane/185,Tyrosine/191.8,Phenylalanine/198.7,Methionine/205.5,Valine/212.3,Histidine/219.2,L-Kynurenine/226,L-Alanine/232.8,Glycine/239.7,Glutamine/246.5,Serine/253.3,Asparagine/260.2,Threonine/267}
  \node[anchor=west,inner sep=0pt,font=\fs{5.6},black!85] at (703,\y) {\l};
\foreach \l/\y in {1/40,0.8/47,0.6/54,0.4/61,0.2/68,0/74.5,-0.2/81}
  \node[anchor=west,inner sep=0pt,font=\fs{4.8},black!85] at (728.5,\y) {\l};
\node[rotate=90,font=\fs{6},black!85] at (717,59) {Pearson r};
% C text
\node[anchor=west,inner sep=0pt,font=\fs{8.3},black!90] at (0,360) {Group A};
\node[anchor=west,inner sep=0pt,font=\fs{8.3},black!90] at (0,460) {Group B};
\node[font=\fs{8},black!85] at (136,579) {High};
\node[font=\fs{8},black!85] at (203,579) {Low};
% D text
\node[font=\fs{5.6},black!85] at (705,370) {A};
\node[font=\fs{5.6},black!85] at (713,370) {B};
\node[font=\fs{5},black!75] at (735,410) {High};
\node[font=\fs{5},black!75] at (735,436) {Low};
% E text
\node[rotate=90,font=\fs{7},black!85] at (63,682) {Ci Banff scores};
\node[rotate=90,font=\fs{7},black!85] at (75,682) {(M12-M3)};
\node[rotate=90,font=\fs{7},black!85] at (233,680) {ct Banff score};
\node[rotate=90,font=\fs{7},black!85] at (245,680) {(M12-M3)};
\node[font=\fs{5.8}] at (159.5,635) {0.0057};
\node[font=\fs{5.8}] at (327,632) {0.0070};
% F text
\node[rotate=90,font=\fs{7.2},black] at (478,686) {Serum creatinine};
\node[rotate=90,font=\fs{7.2},black] at (491,686) {(\textmu mol/L)};
\foreach \l/\x/\y in {0.01/538/641,0.03/568.5/679,0.005/597.5/695,0.009/627.5/695.7,0.03/657.3/697.7}
  \node[font=\fs{4.6},black!75] at (\x,\y) {\l};
\node[anchor=west,inner sep=0pt,font=\fs{4.4},black!80] at (655.5,646.5) {A\textsubscript{M3} to A\textsubscript{M12}};
\node[anchor=west,inner sep=0pt,font=\fs{4.4},black!80] at (655.5,662.5) {A\textsubscript{M3} to B\textsubscript{M12}};
\node[anchor=west,inner sep=0pt,font=\fs{4.4},black!80] at (655.5,678.5) {B\textsubscript{M3} to B\textsubscript{M12}};
\end{scope}
\end{tikzpicture}
\end{document}
